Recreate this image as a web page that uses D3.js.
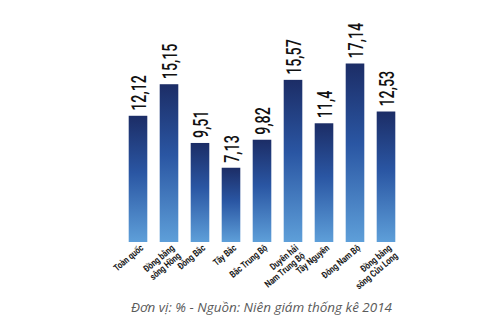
<!DOCTYPE html>
<html><head><meta charset="utf-8">
<script src="https://cdn.jsdelivr.net/npm/d3@7/dist/d3.min.js"></script>
<style>body{margin:0;background:#fff}</style>
</head><body>
<svg id="c" width="500" height="330"></svg>
<script>
const categories = [["Toàn quốc"],["Đồng bằng","sông Hồng"],["Đông Bắc"],["Tây Bắc"],["Bắc Trung Bộ"],["Duyên hải","Nam Trung Bộ"],["Tây Nguyên"],["Đông Nam Bộ"],["Đồng bằng","sông Cửu Long"]];
const values = [12.12,15.15,9.51,7.13,9.82,15.57,11.4,17.14,12.53];
const valueLabels = ["12,12","15,15","9,51","7,13","9,82","15,57","11,4","17,14","12,53"];
const caption = "Đơn vị: % - Nguồn: Niên giám thống kê 2014";

const svg = d3.select("#c");
const base = 242;
const x = d3.scaleBand().domain(d3.range(values.length)).range([122.5, 401.5]).paddingInner(0.4).paddingOuter(0.2);
const y = d3.scaleLinear().domain([0, 17.14]).range([base, 63.5]);

const defs = svg.append("defs");
const g = defs.append("linearGradient").attr("id","bg").attr("x1",0).attr("y1",0).attr("x2",0).attr("y2",1);
g.append("stop").attr("offset",0).attr("stop-color","#1c2d66");
g.append("stop").attr("offset",0.45).attr("stop-color","#2a56a3");
g.append("stop").attr("offset",1).attr("stop-color","#5e9fd9");

svg.selectAll("rect.bar").data(values).join("rect").attr("class","bar")
  .attr("x",(d,i)=>x(i)).attr("width",x.bandwidth())
  .attr("y",d=>y(d)).attr("height",d=>base-y(d)).attr("fill","url(#bg)");

svg.selectAll("text.val").data(values).join("text").attr("class","val")
  .attr("transform",(d,i)=>`translate(${x(i)+x.bandwidth()/2+7.5},${y(d)-5}) rotate(-90) scale(0.68,1)`)
  .attr("font-family","Roboto, sans-serif").attr("font-weight","500")
  .attr("font-size",21).attr("fill","#111")
  .text((d,i)=>valueLabels[i]);

const cat = svg.selectAll("g.cat").data(categories).join("g").attr("class","cat")
  .attr("transform",(d,i)=>`translate(${x(i)+x.bandwidth()/2+6},${base+7}) rotate(-40) scale(0.8,1)`);
cat.each(function(lines){
  const t = d3.select(this).append("text").attr("text-anchor","end")
    .attr("font-family","Roboto, Liberation Sans, sans-serif").attr("font-weight","bold")
    .attr("font-size",9.5).attr("fill","#1a1a1a");
  lines.forEach((l,k)=>{
    t.append("tspan").attr("x", 0).attr("dy", k===0 ? 0 : 10).text(l);
  });
});

svg.append("text").attr("x",131).attr("y",312)
  .attr("font-family","Open Sans, Noto Sans, sans-serif").attr("font-style","italic")
  .attr("font-size",12.5).attr("fill","#5a5a5a").attr("textLength",261).attr("lengthAdjust","spacingAndGlyphs")
  .text(caption);
</script>
</body></html>
